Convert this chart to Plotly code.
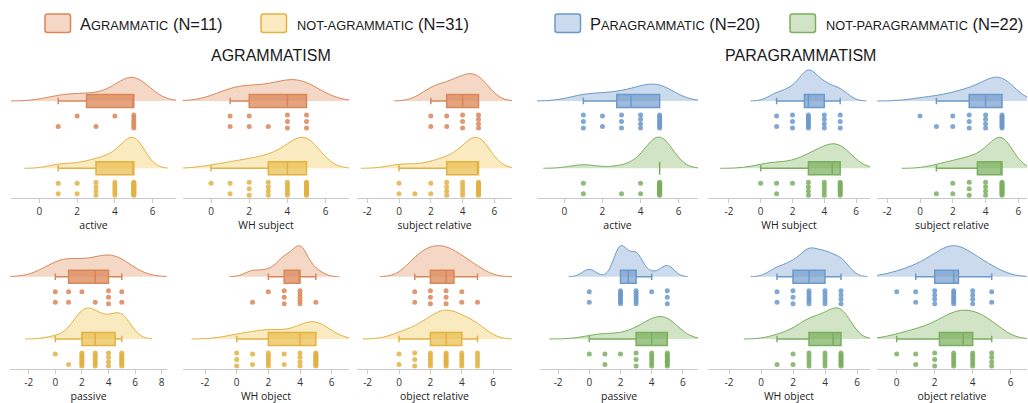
import numpy as np
import plotly.graph_objects as go

W, H = 1028, 403

SCORES = [0, 1, 2, 3, 4, 5]
CONDITIONS = ["active", "WH subject", "subject relative", "passive", "WH object", "object relative"]

# counts of participants per score (0..5)
AGRAM_COUNTS = {
    "active": [0, 1, 1, 1, 1, 6],
    "WH subject": [0, 2, 2, 1, 3, 3],
    "subject relative": [0, 0, 2, 2, 3, 4],
    "passive": [2, 2, 1, 1, 3, 2],
    "WH object": [0, 1, 1, 3, 5, 1],
    "object relative": [0, 2, 3, 3, 2, 1],
}
NOT_AGRAM_COUNTS = {
    "active": [0, 2, 2, 4, 6, 17],
    "WH subject": [1, 2, 3, 4, 6, 15],
    "subject relative": [2, 1, 2, 4, 5, 17],
    "passive": [1, 1, 9, 7, 4, 9],
    "WH object": [3, 2, 6, 2, 4, 14],
    "object relative": [2, 3, 6, 9, 6, 5],
}
PARA_COUNTS = {
    "active": [0, 3, 2, 3, 4, 8],
    "WH subject": [0, 2, 3, 8, 4, 3],
    "subject relative": [1, 1, 2, 3, 4, 9],
    "passive": [2, 0, 8, 6, 1, 3],
    "WH object": [0, 2, 3, 6, 5, 4],
    "object relative": [1, 2, 4, 7, 4, 2],
}
NOT_PARA_COUNTS = {
    "active": [0, 2, 0, 1, 2, 17],
    "WH subject": [1, 2, 1, 4, 5, 9],
    "subject relative": [0, 1, 2, 3, 4, 12],
    "passive": [1, 2, 1, 3, 6, 9],
    "WH object": [0, 1, 2, 5, 5, 9],
    "object relative": [1, 2, 3, 6, 6, 4],
}

# box statistics: lower whisker, q1, median, q3, upper whisker
AGRAM_BOX = {
    "active": [1, 2.5, 5, 5, 5],
    "WH subject": [1, 2, 4, 5, 5],
    "subject relative": [2, 3, 4, 5, 5],
    "passive": [0, 1, 3, 4, 5],
    "WH object": [2, 3, 4, 4, 5],
    "object relative": [1, 2, 3, 3.5, 5],
}
NOT_AGRAM_BOX = {
    "active": [1, 3, 5, 5, 5],
    "WH subject": [0, 3, 4, 5, 5],
    "subject relative": [0, 3, 5, 5, 5],
    "passive": [0, 2, 3, 4.5, 5],
    "WH object": [0, 2, 4, 5, 5],
    "object relative": [0, 2, 3, 4, 5],
}
PARA_BOX = {
    "active": [1, 2.75, 3.5, 5, 5],
    "WH subject": [1, 2.75, 3, 4, 5],
    "subject relative": [1, 3, 4, 5, 5],
    "passive": [2, 2, 2.5, 3, 4],
    "WH object": [1, 2, 3, 4, 5],
    "object relative": [1, 2, 3, 3.25, 5],
}
NOT_PARA_BOX = {
    "active": [5, 5, 5, 5, 5],
    "WH subject": [0, 3, 4.5, 5, 5],
    "subject relative": [1, 3.5, 5, 5, 5],
    "passive": [0, 3, 4, 5, 5],
    "WH object": [1, 3, 4.5, 5, 5],
    "object relative": [0, 2.25, 3.5, 4, 5],
}

LEGEND_LABELS = ["Agrammatic (N=11)", "not-agrammatic (N=31)", "Paragrammatic (N=20)", "not-paragrammatic (N=22)"]
SECTION_TITLES = ["AGRAMMATISM", "PARAGRAMMATISM"]

# styles
STYLE = {
    "agram": dict(stroke="#D8875A", fill="rgba(232,160,118,0.42)", box="rgba(222,138,92,0.78)"),
    "notagram": dict(stroke="#E2B243", fill="rgba(242,208,112,0.45)", box="rgba(234,190,78,0.72)"),
    "para": dict(stroke="#6C99CA", fill="rgba(140,176,216,0.45)", box="rgba(110,154,205,0.68)"),
    "notpara": dict(stroke="#7BAE5F", fill="rgba(152,196,126,0.45)", box="rgba(120,174,90,0.70)"),
}
FAMILIES = {
    "agram": [("agram", AGRAM_COUNTS, AGRAM_BOX), ("notagram", NOT_AGRAM_COUNTS, NOT_AGRAM_BOX)],
    "para": [("para", PARA_COUNTS, PARA_BOX), ("notpara", NOT_PARA_COUNTS, NOT_PARA_BOX)],
}

ROWS = {
    "top": dict(dom=(66, 198), base1=101, base2=168.3),
    "bottom": dict(dom=(236, 369), base1=276.7, base2=339),
}
VIOLIN_MAX_PX = 31  # tallest half-violin in each panel
# family, condition, row, x-domain px, px of value 0, px per unit
PANELS = [
    ("agram", "active", "top", (11, 176), 39.3, 18.9),
    ("agram", "WH subject", "top", (183, 349), 211, 19.1),
    ("agram", "subject relative", "top", (357, 512), 399, 15.9),
    ("agram", "passive", "bottom", (10, 167), 55.3, 13.3),
    ("agram", "WH object", "bottom", (183, 349), 236.7, 15.83),
    ("agram", "object relative", "bottom", (357, 512), 399, 15.7),
    ("para", "active", "top", (537, 698), 564.3, 19.07),
    ("para", "WH subject", "top", (708, 870), 760.7, 15.9),
    ("para", "subject relative", "top", (877, 1027), 920, 16.4),
    ("para", "passive", "bottom", (540, 698), 589.3, 15.6),
    ("para", "WH object", "bottom", (708, 870), 761, 16.0),
    ("para", "object relative", "bottom", (877, 1027), 896.7, 19.0),
]


def silverman(x):
    x = np.asarray(x, float)
    hi = x.std(ddof=1)
    q75, q25 = np.percentile(x, [75, 25])
    lo = min(hi, (q75 - q25) / 1.34)
    if lo == 0:
        lo = hi or abs(x[0]) or 1.0
    return 1.06 * lo * len(x) ** -0.2


def kde_max(vals, bw, span):
    grid = np.linspace(span[0], span[1], 600)
    d = np.exp(-0.5 * ((grid[:, None] - vals[None, :]) / bw) ** 2).sum(1)
    return (d / (len(vals) * bw * np.sqrt(2 * np.pi))).max()


fig = go.Figure()
layout = dict(
    width=W, height=H, margin=dict(l=0, r=0, t=0, b=0),
    paper_bgcolor="white", plot_bgcolor="white", showlegend=False,
    font=dict(family="Open Sans", color="#333"),
)
AX_COLOR = "#c9c9c9"

for i, (fam, cond, row, (xl, xr), x0, ppu) in enumerate(PANELS, start=1):
    R = ROWS[row]
    ppu_y = R["base2"] - R["base1"]
    ytop, ybot = R["dom"]
    yrange = [-(ybot - R["base2"]) / ppu_y, 1 + (R["base1"] - ytop) / ppu_y]
    xrange = [(xl - x0) / ppu, (xr - x0) / ppu]
    tickvals = [v for v in range(-10, 12, 2) if xrange[0] <= v <= xrange[1]]
    xa, ya = f"x{i}", f"y{i}"
    layout[f"xaxis{i}"] = dict(
        domain=[xl / W, xr / W], range=xrange, anchor=ya,
        tickmode="array", tickvals=tickvals, ticktext=[str(v) for v in tickvals],
        showgrid=False, zeroline=False, showline=True, linecolor=AX_COLOR, linewidth=1,
        ticks="outside", ticklen=4, tickcolor=AX_COLOR, tickfont=dict(size=10, color="#333"),
        title=dict(text=cond, font=dict(size=10.5, color="#222"), standoff=3),
        fixedrange=True,
    )
    layout[f"yaxis{i}"] = dict(
        domain=[1 - ybot / H, 1 - ytop / H], range=yrange, anchor=xa, visible=False, fixedrange=True,
    )
    groups = []
    for gi, (gkey, counts_d, box_d) in enumerate(FAMILIES[fam]):
        counts = counts_d[cond]
        vals = np.repeat(SCORES, counts).astype(float)
        bw = silverman(vals)
        span = [vals.min() - 3 * bw, vals.max() + 3 * bw]
        groups.append((gi, gkey, counts, vals, bw, span, kde_max(vals, bw, span), box_d[cond]))
    panel_max = max(g[6] for g in groups)
    for gi, gkey, counts, vals, bw, span, kmax, (lf, q1, med, q3, uf) in groups:
        st = STYLE[gkey]
        pos = 1 - gi
        fig.add_trace(go.Violin(
            x=vals, y0=pos, orientation="h", side="positive",
            width=2 * VIOLIN_MAX_PX / ppu_y * kmax / panel_max,
            bandwidth=bw, spanmode="manual", span=span, points=False,
            box_visible=False, meanline_visible=False,
            line=dict(color=st["stroke"], width=1), fillcolor=st["fill"],
            hoverinfo="skip", xaxis=xa, yaxis=ya, showlegend=False,
        ))
        fig.add_trace(go.Box(
            y=[pos], q1=[q1], median=[med], q3=[q3], lowerfence=[lf], upperfence=[uf],
            orientation="h", width=13 / ppu_y, whiskerwidth=0.5,
            line=dict(color=st["stroke"], width=1.5), fillcolor=st["box"],
            boxpoints=False, hoverinfo="skip", xaxis=xa, yaxis=ya, showlegend=False,
        ))
        # rain (dots)
        dx, dy = [], []
        for s, k in zip(SCORES, counts):
            if k == 0:
                continue
            if k == 1:
                offs = [15.0] if s % 2 == 0 else [25.5]
            elif k == 2:
                offs = [15.0, 25.5]
            else:
                offs = list(np.linspace(14, 27, k))
            for o in offs:
                dx.append(s)
                dy.append(pos - o / ppu_y)
        fig.add_trace(go.Scatter(
            x=dx, y=dy, mode="markers",
            marker=dict(size=5, color=st["stroke"], opacity=0.85, line=dict(width=0)),
            hoverinfo="skip", xaxis=xa, yaxis=ya, showlegend=False,
        ))


def small_caps(label):
    big, small = 16.5, 12.8
    main, _, tail = label.partition(" (")
    out = ""
    for ch in main:
        if ch.isupper():
            out += f"<span style='font-size:{big}px'>{ch}</span>"
        else:
            out += f"<span style='font-size:{small}px'>{ch.upper()}</span>"
    out += f"<span style='font-size:{big}px'> ({tail}</span>"
    return out


# legend swatches + labels
LEG = [(45, 78, "agram"), (261, 295, "notagram"), (555, 588, "para"), (790, 824, "notpara")]
shapes = []
annotations = []
for (sx, tx, key), lab in zip(LEG, LEGEND_LABELS):
    st = STYLE[key]
    x1, x2, y1, y2, r = sx, sx + 25.5, 14, 32.5, 2.5
    pts = lambda px, py: f"{px / W:.5f},{1 - py / H:.5f}"
    path = (f"M{pts(x1 + r, y1)} L{pts(x2 - r, y1)} Q{pts(x2, y1)} {pts(x2, y1 + r)} "
            f"L{pts(x2, y2 - r)} Q{pts(x2, y2)} {pts(x2 - r, y2)} L{pts(x1 + r, y2)} "
            f"Q{pts(x1, y2)} {pts(x1, y2 - r)} L{pts(x1, y1 + r)} Q{pts(x1, y1)} {pts(x1 + r, y1)} Z")
    shapes.append(dict(type="path", xref="paper", yref="paper", path=path,
                       fillcolor=st["fill"], line=dict(color=st["stroke"], width=1.5)))
    annotations.append(dict(x=tx / W, y=1 - 23.5 / H, xref="paper", yref="paper", xanchor="left",
                            yanchor="middle", showarrow=False, text=small_caps(lab),
                            font=dict(family="Liberation Sans", color="#1a1a1a", size=13)))
for cx, t in zip([271, 800.5], SECTION_TITLES):
    annotations.append(dict(x=cx / W, y=1 - 55 / H, xref="paper", yref="paper", xanchor="center",
                            yanchor="middle", showarrow=False, text=t,
                            font=dict(family="Liberation Sans", color="#1a1a1a", size=16)))

layout["shapes"] = shapes
layout["annotations"] = annotations
fig.update_layout(**layout)
fig.write_html(
    "out.html",
    config={"displayModeBar": False, "staticPlot": True},
    post_script="document.body.style.margin='0px';document.body.style.overflow='hidden';",
)
